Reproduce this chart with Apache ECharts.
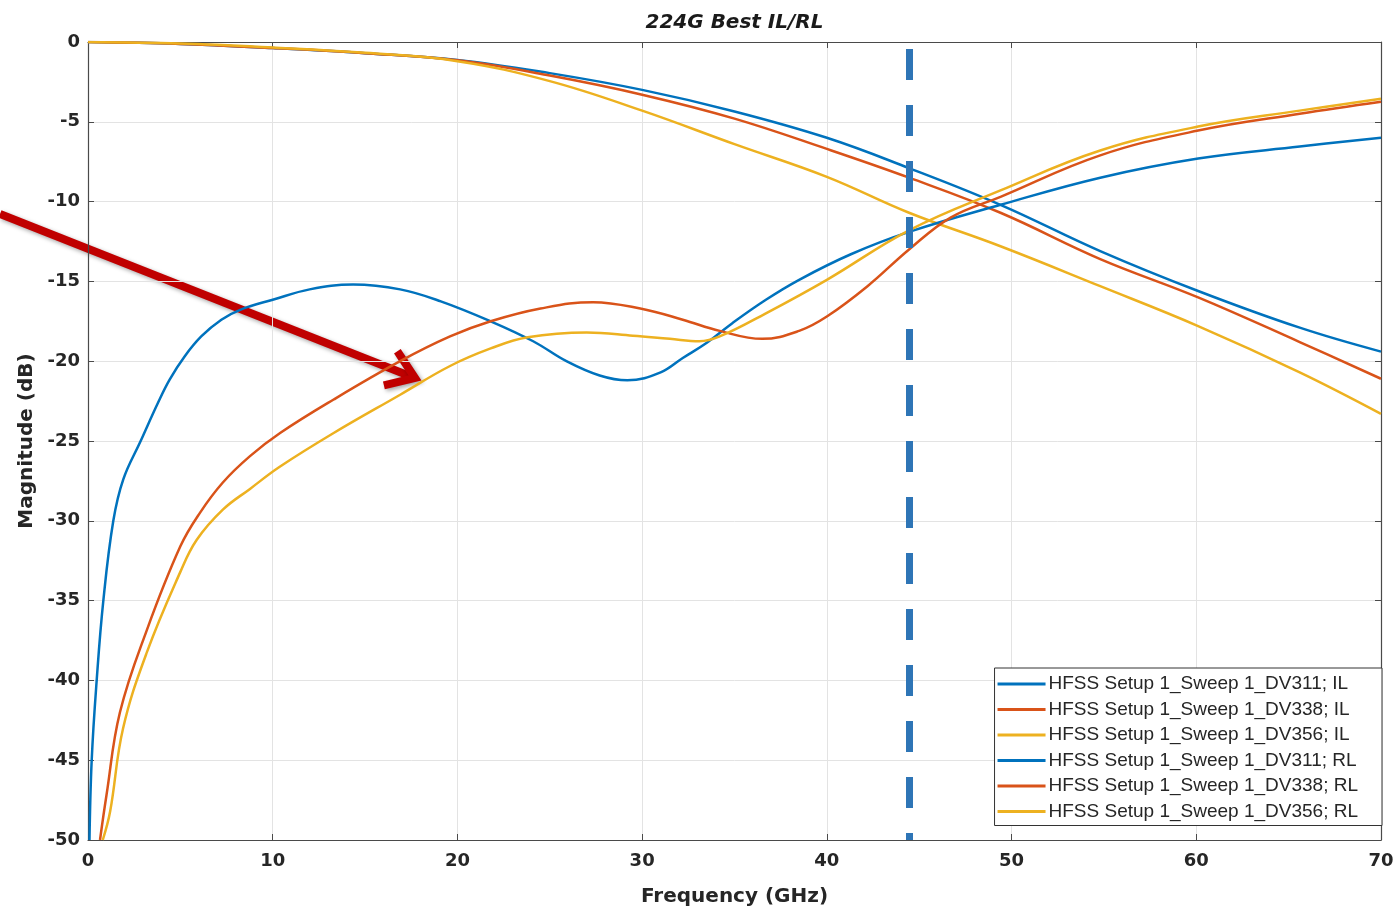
<!DOCTYPE html>
<html>
<head>
<meta charset="utf-8">
<script src="https://cdn.jsdelivr.net/npm/echarts@6/dist/echarts.min.js"></script>
<style>html,body{margin:0;padding:0;background:#fff}#chart{width:1397px;height:912px}</style>
</head>
<body>
<div id="chart"></div>
<script>
// ---- data ----
const titleText = '224G Best IL/RL';
const xTicks = [0, 10, 20, 30, 40, 50, 60, 70];
const yTicks = [0, -5, -10, -15, -20, -25, -30, -35, -40, -45, -50];
const seriesNames = [
  'HFSS Setup 1_Sweep 1_DV311; IL',
  'HFSS Setup 1_Sweep 1_DV338; IL',
  'HFSS Setup 1_Sweep 1_DV356; IL',
  'HFSS Setup 1_Sweep 1_DV311; RL',
  'HFSS Setup 1_Sweep 1_DV338; RL',
  'HFSS Setup 1_Sweep 1_DV356; RL'
];
const markerFreq = 44.45;

const freqIL = [0, 5, 10, 15, 20, 25, 30, 35, 40, 44.45, 49.4, 54.8, 60.1, 65.6, 70];
const ilDV311 = [0, -0.12, -0.38, -0.7, -1.12, -1.95, -3.0, -4.35, -6.0, -7.9, -10.2, -13.1, -15.6, -17.9, -19.4];
const ilDV338 = [0, -0.12, -0.38, -0.7, -1.15, -2.1, -3.3, -4.8, -6.7, -8.5, -10.7, -13.6, -16.0, -18.8, -21.1];
const ilDV356 = [0, -0.1, -0.35, -0.68, -1.2, -2.45, -4.3, -6.4, -8.45, -10.7, -12.8, -15.3, -17.8, -20.7, -23.3];

const freqRL311 = [0.08, 0.2, 0.47, 0.83, 1.37, 1.91, 2.85, 3.79, 4.42, 5.23, 6.13, 7.22, 8.3, 10, 12, 14.35, 16.9, 19.1, 21.8, 24.1, 25.9, 27.7, 29.2, 31, 32.2, 33.5, 34.9, 36.7, 38.5, 41.3, 44.45, 49.4, 54.8, 60.1, 65.6, 70];
const rlDV311 = [-50, -45, -40, -35, -30, -27.4, -25, -22.6, -21.15, -19.7, -18.45, -17.4, -16.75, -16.15, -15.5, -15.2, -15.5, -16.25, -17.5, -18.75, -20.0, -20.9, -21.2, -20.7, -19.8, -18.85, -17.6, -16.15, -14.9, -13.3, -11.9, -10.2, -8.5, -7.3, -6.55, -6.0];

const freqRL338 = [0.65, 1.0, 1.73, 3.2, 5, 6.06, 7.3, 8.77, 10.4, 13.3, 16.9, 19.6, 21.8, 24.5, 27.35, 29.9, 32.2, 34.2, 36.5, 38.5, 40, 42.2, 44.45, 46.7, 49.4, 54.8, 60.1, 65.6, 70];
const rlDV338 = [-50, -47.2, -42, -36.8, -31.6, -29.5, -27.6, -25.95, -24.5, -22.4, -20.0, -18.45, -17.5, -16.7, -16.3, -16.7, -17.4, -18.1, -18.6, -18.1, -17.2, -15.3, -13.0, -11.0, -9.7, -7.1, -5.55, -4.5, -3.75];

const freqRL356 = [0.8, 1.2, 1.9, 3.2, 5.0, 5.88, 7.3, 8.77, 10.4, 13.3, 16.9, 19.6, 21.8, 23.8, 27, 29.5, 31.5, 33.1, 34.2, 36.7, 40, 44.45, 49.4, 54.8, 60.1, 65.6, 70];
const rlDV356 = [-50, -48.2, -43, -38.2, -33.2, -31.2, -29.3, -28.0, -26.6, -24.5, -22.1, -20.3, -19.2, -18.5, -18.2, -18.4, -18.6, -18.75, -18.45, -17.0, -14.9, -11.8, -9.3, -6.8, -5.3, -4.3, -3.55];

// ---- chart ----
const colors = ['#0072BD', '#D95319', '#EDB120', '#0072BD', '#D95319', '#EDB120'];
const pairs = [
  [freqIL, ilDV311], [freqIL, ilDV338], [freqIL, ilDV356],
  [freqRL311, rlDV311], [freqRL338, rlDV338], [freqRL356, rlDV356]
];
const axisFont = { fontFamily: 'DejaVu Sans', fontWeight: 'bold', fontSize: 18, color: '#262626' };
const axisLineColor = '#4a4a4a';
const gridColor = '#e3e3e3';

const chart = echarts.init(document.getElementById('chart'), null, { renderer: 'canvas' });

const series = pairs.map((p, i) => ({
  name: seriesNames[i],
  type: 'line',
  xAxisIndex: 0, yAxisIndex: 0,
  data: p[0].map((f, k) => [f, p[1][k]]),
  smooth: 0.4,
  symbol: 'none',
  showSymbol: false,
  clip: true,
  lineStyle: { color: colors[i], width: 2.5 },
  itemStyle: { color: colors[i] },
  z: 3
}));
series[0].markLine = {
  silent: true,
  symbol: ['none', 'none'],
  label: { show: false },
  lineStyle: { color: '#2E75B6', width: 7, type: [31, 25], dashOffset: 24, opacity: 1 },
  emphasis: { disabled: true },
  data: [{ xAxis: markerFreq }],
  z: 5
};

// red annotation arrow (decoration)
const tail = [0, 214], tip = [415, 378];
const dx = tip[0] - tail[0], dy = tip[1] - tail[1];
const len = Math.hypot(dx, dy);
const ux = dx / len, uy = dy / len;
const barb = 32, ang = 35 * Math.PI / 180;
function rot(x, y, a) { return [x * Math.cos(a) - y * Math.sin(a), x * Math.sin(a) + y * Math.cos(a)]; }
const b1 = rot(-ux, -uy, ang), b2 = rot(-ux, -uy, -ang);
const shadow = { shadowBlur: 4, shadowOffsetX: 2, shadowOffsetY: 2, shadowColor: 'rgba(0,0,0,0.35)' };

const option = {
  animation: false,
  backgroundColor: '#ffffff',
  title: {
    text: titleText,
    left: 734.5,
    textAlign: 'center',
    top: 13,
    padding: 0,
    textStyle: { fontFamily: 'DejaVu Sans', fontWeight: 'bold', fontStyle: 'italic', fontSize: 20, color: '#1a1a1a' }
  },
  grid: { left: 88, right: 16, top: 42, bottom: 71, containLabel: false },
  legend: {
    data: seriesNames,
    orient: 'vertical',
    right: 15,
    top: 668,
    icon: 'rect',
    itemWidth: 48,
    itemHeight: 3,
    itemGap: 5.5,
    padding: [6, 24, 4, 3],
    backgroundColor: '#ffffff',
    borderColor: '#333333',
    borderWidth: 1,
    borderRadius: 0,
    selectedMode: false,
    textStyle: { fontFamily: 'Liberation Sans', fontSize: 19, color: '#262626', lineHeight: 20, padding: [0, 0, 0, -2] }
  },
  xAxis: [
    {
      type: 'value', min: xTicks[0], max: xTicks[xTicks.length - 1], interval: 10,
      name: 'Frequency (GHz)', nameLocation: 'middle', nameGap: 47,
      nameTextStyle: { fontFamily: 'DejaVu Sans', fontWeight: 'bold', fontSize: 20, color: '#262626' },
      axisLine: { show: true, onZero: false, lineStyle: { color: axisLineColor, width: 1.2 } },
      axisTick: { show: true, inside: true, length: 6, lineStyle: { color: axisLineColor } },
      axisLabel: Object.assign({ margin: 12 }, axisFont),
      splitLine: { show: true, lineStyle: { color: gridColor, width: 1 } }
    },
    {
      type: 'value', position: 'top', min: xTicks[0], max: xTicks[xTicks.length - 1], interval: 10,
      axisLine: { show: true, onZero: false, lineStyle: { color: axisLineColor, width: 1.2 } },
      axisTick: { show: true, inside: true, length: 6, lineStyle: { color: axisLineColor } },
      axisLabel: { show: false },
      splitLine: { show: false }
    }
  ],
  yAxis: [
    {
      type: 'value', min: yTicks[yTicks.length - 1], max: yTicks[0], interval: 5,
      name: 'Magnitude (dB)', nameLocation: 'middle', nameGap: 47, nameRotate: 90,
      nameTextStyle: { fontFamily: 'DejaVu Sans', fontWeight: 'bold', fontSize: 20, color: '#262626' },
      axisLine: { show: true, onZero: false, lineStyle: { color: axisLineColor, width: 1.2 } },
      axisTick: { show: true, inside: true, length: 6, lineStyle: { color: axisLineColor } },
      axisLabel: Object.assign({ margin: 8 }, axisFont),
      splitLine: { show: true, lineStyle: { color: gridColor, width: 1 } }
    },
    {
      type: 'value', position: 'right', min: yTicks[yTicks.length - 1], max: yTicks[0], interval: 5,
      axisLine: { show: true, onZero: false, lineStyle: { color: axisLineColor, width: 1.2 } },
      axisTick: { show: true, inside: true, length: 6, lineStyle: { color: axisLineColor } },
      axisLabel: { show: false },
      splitLine: { show: false }
    }
  ],
  series: series,
  graphic: [
    {
      type: 'group', z: 100, silent: true,
      children: [
        {
          type: 'line',
          shape: { x1: tail[0], y1: tail[1], x2: tip[0] - ux * 5, y2: tip[1] - uy * 5 },
          style: Object.assign({ stroke: '#C00000', lineWidth: 8, lineCap: 'butt' }, shadow)
        },
        {
          type: 'polyline',
          shape: { points: [[tip[0] + b1[0] * barb, tip[1] + b1[1] * barb], [tip[0], tip[1]], [tip[0] + b2[0] * barb, tip[1] + b2[1] * barb]] },
          style: Object.assign({ stroke: '#C00000', lineWidth: 8, fill: null, lineJoin: 'miter', lineCap: 'butt' }, shadow)
        }
      ]
    }
  ]
};
chart.setOption(option);
</script>
</body>
</html>
